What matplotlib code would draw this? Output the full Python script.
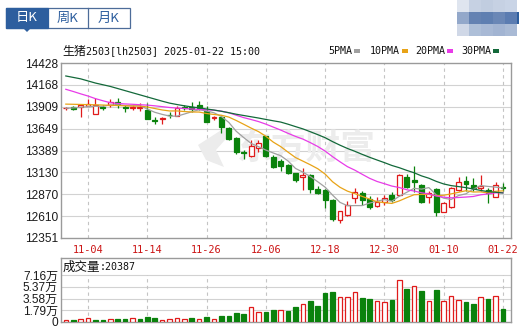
import matplotlib
matplotlib.use("Agg")
import matplotlib.pyplot as plt
from matplotlib.patches import Rectangle, Polygon
import numpy as np

# ---------------- data ----------------
date_labels = ["11-04", "11-14", "11-26", "12-06", "12-18", "12-30", "01-10", "01-22"]
date_index = [3, 11, 19, 27, 35, 43, 51, 59]
price_ticks = [14428, 14168, 13909, 13649, 13389, 13130, 12870, 12610, 12351]
vol_ticks = [0, 17900, 35800, 53700, 71600]
vol_tick_labels = ["0", "1.79万", "3.58万", "5.37万", "7.16万"]

opens = [13890, 13900, 13900, 13920, 13823, 13905, 13930, 13969, 13910, 13895,
         13890, 13874, 13755, 13760, 13815, 13802, 13905, 13910, 13930, 13858,
         13780, 13793, 13662, 13534, 13375, 13330, 13415, 13558, 13316, 13265,
         13217, 13119, 13071, 13099, 12932, 12915, 12802, 12559, 12624, 12822,
         12881, 12810, 12734, 12784, 12861, 12861, 13078, 13044, 12980, 12841,
         12928, 12663, 12715, 12921, 13031, 12980, 12941, 12921, 12834, 12960]
highs = [13910, 13920, 13935, 14001, 14015, 13925, 13995, 14007, 13930, 13925,
         13955, 13959, 13790, 13785, 13850, 13912, 13925, 13960, 13980, 13918,
         13800, 13811, 13672, 13550, 13390, 13514, 13520, 13567, 13336, 13288,
         13229, 13128, 13176, 13111, 12974, 12932, 12814, 12677, 12796, 12950,
         12903, 12849, 12832, 12861, 12900, 13105, 13111, 13205, 12992, 12912,
         12944, 12778, 12956, 13078, 13087, 13059, 13099, 12944, 13019, 13000]
lows = [13875, 13865, 13790, 13915, 13820, 13870, 13906, 13894, 13850, 13870,
        13855, 13764, 13705, 13700, 13770, 13800, 13875, 13850, 13870, 13728,
        13750, 13594, 13520, 13348, 13290, 13312, 13372, 13318, 13176, 13146,
        13116, 13016, 12926, 12891, 12879, 12703, 12547, 12529, 12612, 12770,
        12742, 12691, 12715, 12742, 12778, 12855, 12940, 12900, 12770, 12770,
        12612, 12654, 12707, 12912, 12912, 12912, 12912, 12770, 12832, 12909]
closes = [13895, 13885, 13925, 13940, 13926, 13893, 13965, 13938, 13895, 13905,
          13905, 13766, 13745, 13770, 13805, 13897, 13895, 13880, 13890, 13731,
          13790, 13674, 13528, 13366, 13360, 13443, 13478, 13324, 13194, 13200,
          13126, 13039, 13102, 12935, 12891, 12802, 12571, 12671, 12737, 12897,
          12802, 12722, 12782, 12829, 12802, 13099, 12952, 13021, 12782, 12891,
          12663, 12763, 12941, 13019, 12992, 12944, 12968, 12891, 12980, 12944]
volumes = [3500, 3500, 5000, 6500, 3500, 3500, 5000, 5000, 5000, 6100,
           5000, 8100, 5600, 3500, 5000, 6100, 5000, 6500, 5000, 8100,
           5000, 9600, 9600, 14200, 11700, 22800, 15200, 15200, 18300, 18300,
           16800, 23300, 27400, 32400, 24800, 44600, 46100, 38100, 38100, 45700,
           37000, 35500, 32000, 30500, 34000, 64000, 50700, 54800, 47700, 32000,
           49200, 32000, 39600, 33500, 30900, 27900, 38500, 35500, 39600, 20387]
vol_dir = list("RGRRGGRGGR" "GGGRRRRGRG" "RGGGGRRGGR" "GGRGGGGRRR"
               "GGRRGRGRGR" "GRRRGGRGRG")

# moving-average values before a full window is visible
ma5_head = [13890, 13895, 13902, 13910]
ma10_head = [13940, 13938, 13936, 13934, 13932, 13929, 13926, 13923, 13920]
ma20_head = [14116, 14090, 14062, 14036, 14005, 13980, 13957, 13948, 13942, 13938,
             13933, 13928, 13920, 13910, 13900, 13893, 13888, 13882, 13877]
ma30_head = [14274, 14257, 14240, 14215, 14190, 14170, 14150, 14125, 14100, 14075,
             14050, 14025, 14000, 13975, 13952, 13935, 13920, 13907, 13895, 13882,
             13870, 13855, 13838, 13820, 13805, 13790, 13775, 13758, 13742]

ma_names = ["5PMA", "10PMA", "20PMA", "30PMA"]
ma_colors = ["#a0a0a0", "#e8a317", "#e83be8", "#13693a"]

RED = "#e01b1b"
GREEN = "#0a820c"


def moving_average(vals, n, head):
    out = list(head)
    for i in range(len(head), len(vals)):
        out.append(float(np.mean(vals[i - n + 1:i + 1])))
    return out


ma5 = moving_average(closes, 5, ma5_head)
ma10 = moving_average(closes, 10, ma10_head)
ma20 = moving_average(closes, 20, ma20_head)
ma30 = moving_average(closes, 30, ma30_head)

# ---------------- figure ----------------
W, H = 521, 329
fig = plt.figure(figsize=(W / 100, H / 100), dpi=100)
fig.patch.set_facecolor("white")


def fx(x):
    return x / W


def fy(y):
    return 1 - y / H


CJK = ["Noto Sans CJK SC", "DejaVu Sans"]
MONO = ["DejaVu Sans Mono", "Noto Sans CJK SC"]
NUM = ["Liberation Sans", "Noto Sans CJK SC"]

ax = fig.add_axes([fx(61), fy(238), (511 - 61) / W, (238 - 63) / H])
axv = fig.add_axes([fx(61), fy(322), (511 - 61) / W, (322 - 258) / H])

n = len(closes)
xlim = (-0.65, 60.08)
bw = 0.66

for a in (ax, axv):
    a.set_xlim(*xlim)
    for s in a.spines.values():
        s.set_color("#9a9a9a")
        s.set_linewidth(1.0)
    a.set_facecolor("white")

# ---- main chart ----
ax.set_ylim(price_ticks[-1], price_ticks[0])
for v in price_ticks[1:-1]:
    ax.axhline(v, color="#d2d2d2", lw=0.8, zorder=0.5)
for idx in date_index:
    ax.axvline(idx, color="#c4c4c4", lw=0.8, ls=(0, (3, 3)), zorder=0.5)

# watermark
ax.text(fx(306), fy(148), "东方财富", transform=fig.transFigure, family=CJK,
        fontsize=25, fontweight="bold", color="#ececec", ha="center", va="center",
        zorder=0.6)
logo = Polygon([(fx(226), fy(127)), (fx(233), fy(131)), (fx(216), fy(150)),
                (fx(224), fy(167)), (fx(206), fy(160)), (fx(198), fy(145))],
               closed=True, transform=fig.transFigure, facecolor="#ececec",
               edgecolor="none", zorder=0.6)
ax.add_patch(logo)

min_h = 9
for i in range(n):
    o, h, l, c = opens[i], highs[i], lows[i], closes[i]
    up = c >= o
    col = RED if up else GREEN
    ax.vlines(i, l, h, color=col, lw=0.9, zorder=2)
    bot = min(o, c)
    hgt = max(abs(c - o), min_h)
    ax.add_patch(Rectangle((i - bw / 2, bot), bw, hgt,
                           facecolor="white" if up else col, edgecolor=col,
                           lw=0.9, zorder=3))

xs = np.arange(n)
for vals, col in zip([ma5, ma10, ma20, ma30], ma_colors):
    ax.plot(xs, vals, color=col, lw=0.9, zorder=4)

ax.set_yticks(price_ticks)
ax.set_yticklabels([str(v) for v in price_ticks], family=NUM, fontsize=8.6,
                   color="#1a1a1a")
ax.set_xticks(date_index)
ax.set_xticklabels(date_labels, family=MONO, fontsize=7.4, color="#cc1515")
ax.tick_params(axis="y", length=0, pad=2.2)
ax.tick_params(axis="x", length=0, pad=5)

# ---- volume chart ----
axv.set_ylim(0, 97500)
for v in vol_ticks[1:]:
    axv.axhline(v, color="#d2d2d2", lw=0.8, zorder=0.5)
axv.vlines(date_index, 0, vol_ticks[-1], color="#c4c4c4", lw=0.8,
           linestyles=(0, (3, 3)), zorder=0.5)
for i in range(n):
    up = vol_dir[i] == "R"
    col = RED if up else GREEN
    axv.add_patch(Rectangle((i - 0.31, 0), 0.62, volumes[i],
                            facecolor="white" if up else col, edgecolor=col,
                            lw=0.9, zorder=3))
axv.set_yticks(vol_ticks)
axv.set_yticklabels(vol_tick_labels, family=NUM, fontsize=8.6, color="#1a1a1a")
axv.set_xticks([])
axv.tick_params(axis="y", length=0, pad=2.2)

fig.text(fx(63), fy(267), "成交量", family=CJK, fontsize=9, color="#111111",
         va="center", ha="left")
fig.text(fx(100), fy(267), ":" + str(volumes[-1]), family=MONO, fontsize=7.2,
         color="#111111", va="center", ha="left")

# ---- title & legend ----
fig.text(fx(62), fy(51), "生猪", family=CJK, fontsize=8.6, color="#111111",
         va="center", ha="left")
fig.text(fx(86), fy(51), "2503[lh2503] 2025-01-22 15:00", family=MONO,
         fontsize=7.2, color="#111111", va="center", ha="left")

leg_x = [328, 370, 415, 461]
for name, col, lx in zip(ma_names, ma_colors, leg_x):
    t = fig.text(fx(lx), fy(51), name, family=MONO, fontsize=7.2, color="#111111",
                 va="center", ha="left")
    bx = lx + 6.0 * len(name) + 2
    fig.add_artist(Rectangle((fx(bx), fy(52.5)), 6 / W, 3 / H,
                             transform=fig.transFigure, facecolor=col,
                             edgecolor="none"))

# ---- tabs ----
TAB_BLUE = "#2d5e9e"
fig.add_artist(Rectangle((fx(6), fy(28)), 124 / W, 20 / H, transform=fig.transFigure,
                         facecolor="white", edgecolor="#4d6c99", lw=0.9))
fig.add_artist(Rectangle((fx(6), fy(28)), 42 / W, 20 / H, transform=fig.transFigure,
                         facecolor=TAB_BLUE, edgecolor=TAB_BLUE, lw=0.9))
for xd in (88,):
    fig.add_artist(plt.Line2D([fx(xd), fx(xd)], [fy(8), fy(28)],
                              transform=fig.transFigure, color="#4d6c99", lw=0.9))
fig.add_artist(Polygon([(fx(23), fy(28)), (fx(31), fy(28)), (fx(27), fy(32))],
                       closed=True, transform=fig.transFigure, facecolor=TAB_BLUE,
                       edgecolor="none"))
tab_labels = ["日K", "周K", "月K"]
tab_cx = [27, 68, 109]
for k, (lab, cx) in enumerate(zip(tab_labels, tab_cx)):
    fig.text(fx(cx), fy(18), lab, family=CJK, fontsize=9.5,
             color="white" if k == 0 else TAB_BLUE, ha="center", va="center")

# ---- pixelated logo at top right ----
block_cols = [
    ["#dfe5ef", "#c6d1e3", "#c1cde0", "#c6d1e3", "#c9d4e6"],
    ["#93a8ca", "#6482b2", "#5f7fb1", "#6a87b6", "#5b7cb1"],
    ["#d0d8e7", "#aebfd8", "#a8b9d5", "#a2b4d2", "#a9bad5"],
]
for r, row in enumerate(block_cols):
    for cidx, colr in enumerate(row):
        x0 = 457 + cidx * 12
        y0 = r * 12
        fig.add_artist(Rectangle((fx(x0), fy(y0 + 12)), 12 / W, 12 / H,
                                 transform=fig.transFigure, facecolor=colr,
                                 edgecolor="none"))
fig.add_artist(Rectangle((fx(517), fy(24)), 2 / W, 12 / H, transform=fig.transFigure,
                         facecolor="#2d5e9e", edgecolor="none"))

fig.savefig("out.png", dpi=100, facecolor="white")
